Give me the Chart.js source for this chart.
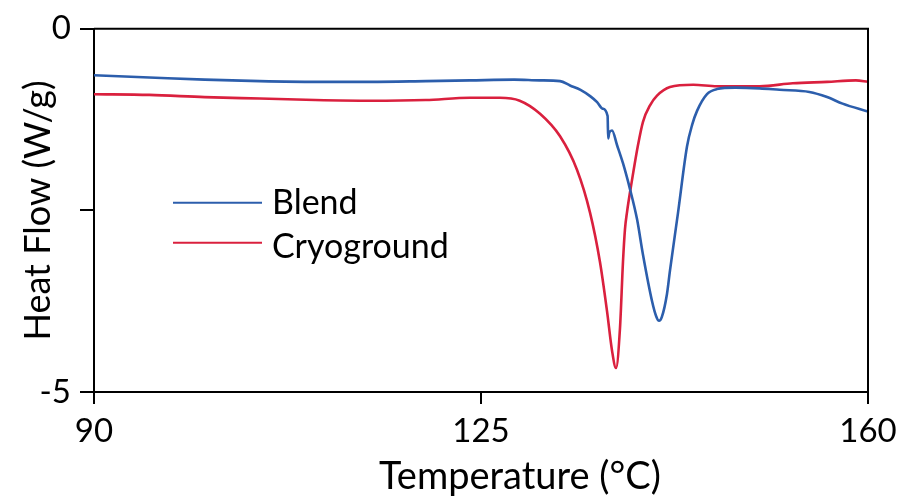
<!DOCTYPE html>
<html><head><meta charset="utf-8">
<script src="https://cdn.jsdelivr.net/npm/chart.js@4/dist/chart.umd.min.js"></script>
<style>html,body{margin:0;padding:0;background:#fff;overflow:hidden;}</style>
</head><body>
<canvas id="c" width="917" height="502" style="display:block;width:917px;height:502px"></canvas>
<script>
// ---- data ----
const seriesNames = ['Blend', 'Cryoground'];
const blendTemp = [90, 95, 100, 105, 110, 115, 120, 124, 128, 130.3, 132.15, 133.05, 134.0, 134.9, 135.5, 136.0, 136.45, 136.5, 136.6, 136.85, 137.3, 137.84, 138.48, 139.11, 139.65, 140.47, 140.85, 141.1, 141.35, 141.82, 142.09, 142.82, 143.63, 144.1, 144.54, 145.44, 146.34, 148, 150.2, 152, 154.7, 156.3, 157.7, 160];
const blendFlow = [-0.64, -0.67, -0.70, -0.72, -0.73, -0.73, -0.72, -0.71, -0.70, -0.71, -0.72, -0.78, -0.84, -0.93, -1.01, -1.10, -1.20, -1.51, -1.43, -1.40, -1.60, -1.85, -2.21, -2.62, -3.11, -3.75, -3.96, -4.02, -3.97, -3.65, -3.33, -2.53, -1.62, -1.32, -1.13, -0.90, -0.83, -0.81, -0.82, -0.84, -0.87, -0.94, -1.03, -1.14];
const cryoTemp = [90, 95, 100, 105, 110, 115, 120, 124, 126.7, 128.5, 130.34, 132.15, 133.68, 134.86, 135.76, 136.4, 136.85, 137.21, 137.57, 137.84, 138.02, 138.2, 138.66, 139.2, 139.65, 140.3, 140.92, 142.09, 144.2, 146.34, 150.2, 153.2, 156.3, 158.9, 160];
const cryoFlow = [-0.90, -0.91, -0.94, -0.96, -0.98, -0.99, -0.98, -0.95, -0.95, -0.99, -1.17, -1.48, -1.94, -2.53, -3.21, -3.89, -4.43, -4.67, -4.12, -3.21, -2.76, -2.53, -2.08, -1.60, -1.28, -1.05, -0.92, -0.80, -0.77, -0.79, -0.79, -0.75, -0.73, -0.71, -0.73];
const xTicks = [90, 125, 160];
const yTicks = [-5, -2.5, 0];
const yTickLabels = ['-5', '', '0'];
const xTitle = 'Temperature (°C)';
const yTitle = 'Heat Flow (W/g)';

const FONT = 'Lato';
const toPts = (xs, ys) => xs.map((x, i) => ({x: x, y: ys[i]}));

const boxPlugin = {
  id: 'box',
  afterDraw(chart) {
    const {ctx, chartArea: a} = chart;
    ctx.save();
    ctx.strokeStyle = '#000';
    ctx.lineWidth = 2;
    ctx.beginPath();
    ctx.moveTo(a.left, a.top); ctx.lineTo(a.right, a.top); ctx.lineTo(a.right, a.bottom);
    ctx.stroke();
    ctx.restore();
  }
};

const legendPlugin = {
  id: 'insetLegend',
  afterDatasetsDraw(chart) {
    const {ctx, chartArea: a} = chart;
    const x0 = a.left + 79;
    chart.data.datasets.forEach((ds, i) => {
      const y = a.top + 174 + i * 40;
      ctx.save();
      ctx.strokeStyle = ds.borderColor;
      ctx.lineWidth = 2;
      ctx.beginPath(); ctx.moveTo(x0, y); ctx.lineTo(x0 + 89, y); ctx.stroke();
      ctx.fillStyle = '#000';
      ctx.font = '34px ' + FONT;
      ctx.textBaseline = 'alphabetic';
      ctx.fillText(ds.label, x0 + 99, y + 11 + i * 4);
      ctx.restore();
    });
  }
};

new Chart(document.getElementById('c'), {
  type: 'line',
  data: {
    datasets: [
      {label: seriesNames[0], data: toPts(blendTemp, blendFlow), borderColor: 'rgb(44,94,172)', borderWidth: 2.6, pointRadius: 0, cubicInterpolationMode: 'monotone', fill: false},
      {label: seriesNames[1], data: toPts(cryoTemp, cryoFlow), borderColor: 'rgb(218,32,62)', borderWidth: 2.6, pointRadius: 0, cubicInterpolationMode: 'monotone', fill: false}
    ]
  },
  options: {
    responsive: false,
    devicePixelRatio: 1,
    animation: false,
    layout: {padding: {left: 0, top: 24, right: 49, bottom: 0}},
    plugins: {legend: {display: false}, tooltip: {enabled: false}},
    scales: {
      x: {
        type: 'linear', min: 90, max: 160,
        afterBuildTicks: s => { s.ticks = xTicks.map(v => ({value: v})); },
        afterFit: s => { s.height = 110; },
        ticks: {autoSkip: false, maxRotation: 0, padding: 8, color: '#000', font: {family: FONT, size: 33}, callback: v => String(v)},
        grid: {drawOnChartArea: false, drawTicks: true, tickLength: 12, color: '#000', lineWidth: 2},
        border: {display: true, color: '#000', width: 2},
        title: {display: true, text: '        ' + xTitle, color: '#000', font: {family: FONT, size: 38}, padding: {top: 0, bottom: 2}}
      },
      y: {
        type: 'linear', min: -5, max: 0,
        afterBuildTicks: s => { s.ticks = yTicks.map(v => ({value: v})); },
        afterFit: s => { s.width = 94; },
        ticks: {autoSkip: false, padding: 9, color: '#000', font: {family: FONT, size: 33}, callback: v => yTickLabels[yTicks.indexOf(v)]},
        grid: {drawOnChartArea: false, drawTicks: true, tickLength: 14, color: '#000', lineWidth: 2},
        border: {display: true, color: '#000', width: 2},
        title: {display: true, text: yTitle, color: '#000', font: {family: FONT, size: 36}, padding: {top: 17, bottom: 0}}
      }
    }
  },
  plugins: [boxPlugin, legendPlugin]
});
</script>
</body></html>
